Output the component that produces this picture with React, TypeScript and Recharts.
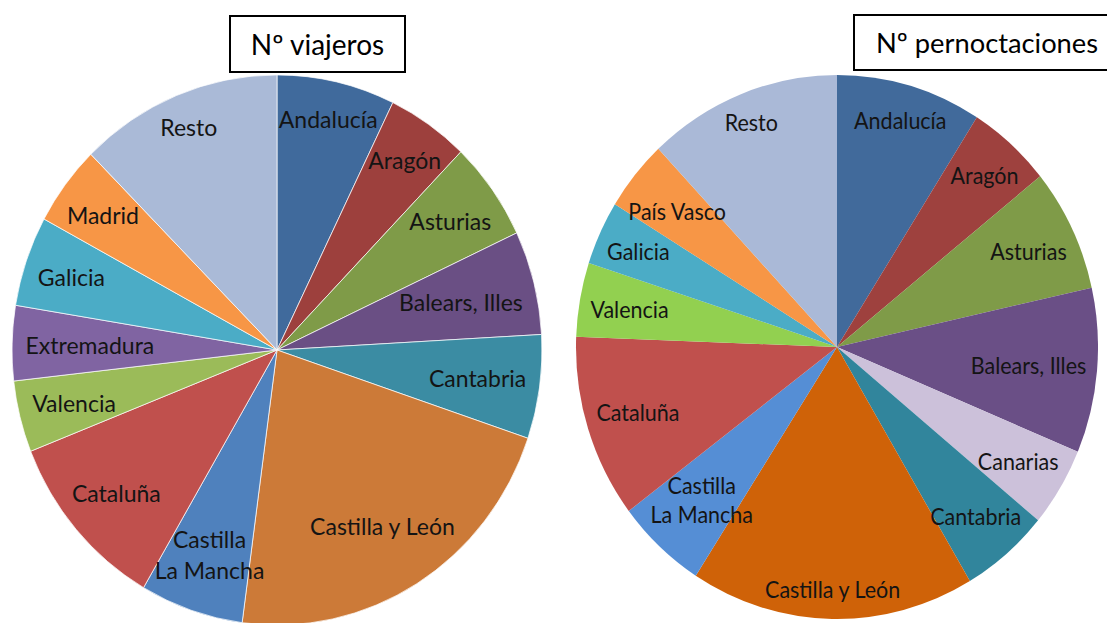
import { Cell, Pie, PieChart } from "recharts";

// Nº viajeros, share per region (%), clockwise from 12 o'clock
const viajerosRegions = [
  "Andalucía",
  "Aragón",
  "Asturias",
  "Balears, Illes",
  "Cantabria",
  "Castilla y León",
  "Castilla La Mancha",
  "Cataluña",
  "Valencia",
  "Extremadura",
  "Galicia",
  "Madrid",
  "Resto",
];
const viajerosShare = [7.2, 5.0, 5.8, 6.1, 6.1, 21.9, 6.3, 10.6, 4.2, 4.4, 5.3, 4.7, 12.4];
const viajerosColors = [
  "#406a9c",
  "#9d403d",
  "#7f9b48",
  "#6a4f84",
  "#3b8ca3",
  "#cc7a38",
  "#4f81bd",
  "#c0504d",
  "#9bbb59",
  "#8064a2",
  "#4bacc6",
  "#f79646",
  "#aabad7",
];

// Nº pernoctaciones
const pernoctacionesRegions = [
  "Andalucía",
  "Aragón",
  "Asturias",
  "Balears, Illes",
  "Canarias",
  "Cantabria",
  "Castilla y León",
  "Castilla La Mancha",
  "Cataluña",
  "Valencia",
  "Galicia",
  "País Vasco",
  "Resto",
];
const pernoctacionesShare = [9.0, 5.2, 7.3, 9.8, 4.7, 5.5, 17.6, 5.6, 10.9, 4.4, 3.8, 4.2, 12.0];
const pernoctacionesColors = [
  "#416a9b",
  "#9e413e",
  "#7f9b48",
  "#6a4f86",
  "#ccc1da",
  "#31859c",
  "#cf6208",
  "#558ed5",
  "#c0504d",
  "#92d050",
  "#4bacc6",
  "#f79646",
  "#aab9d7",
];

const FONT = "Lato";
const RADIAN = Math.PI / 180;

let measureCtx: CanvasRenderingContext2D | null = null;
const measureText = (text: string, fontSize: number) => {
  if (!measureCtx) measureCtx = document.createElement("canvas").getContext("2d");
  if (!measureCtx) return text.length * fontSize * 0.5;
  measureCtx.font = `${fontSize}px ${FONT}`;
  return measureCtx.measureText(text).width;
};

const splitName = (name: string) =>
  name === "Castilla La Mancha" ? ["Castilla", "La Mancha"] : [name];

// places the label on the slice's mid-angle ray, pushed out until its far corner nears the rim
const makeLabel = (names: string[], fontSize: number, reach: number) => (props: any) => {
  const { cx, cy, midAngle, outerRadius, index } = props;
  const lines = splitName(names[index]);
  const lineHeight = fontSize * 1.3;
  const w = Math.max(...lines.map((l) => measureText(l, fontSize)));
  const h = fontSize * 0.7 + (lines.length - 1) * lineHeight;
  const cos = Math.cos(-midAngle * RADIAN);
  const sin = Math.sin(-midAngle * RADIAN);
  const target = outerRadius * reach;

  let lo = 0;
  let hi = 1;
  for (let i = 0; i < 30; i++) {
    const f = (lo + hi) / 2;
    const dx = Math.abs(f * outerRadius * cos) + w / 2;
    const dy = Math.abs(f * outerRadius * sin) + h / 2;
    if (Math.hypot(dx, dy) > target) hi = f;
    else lo = f;
  }
  const x = cx + lo * outerRadius * cos;
  const y = cy + lo * outerRadius * sin - ((lines.length - 1) * lineHeight) / 2;

  return (
    <text
      x={x}
      y={y}
      textAnchor="middle"
      dominantBaseline="central"
      fill="#141414"
      fontFamily={FONT}
      fontSize={fontSize}
    >
      {lines.map((line, i) => (
        <tspan key={line} x={x} dy={i === 0 ? 0 : lineHeight}>
          {line}
        </tspan>
      ))}
    </text>
  );
};

type RegionPieProps = {
  names: string[];
  values: number[];
  colors: string[];
  width: number;
  cx: number;
  cy: number;
  radius: number;
  stretch: number;
  fontSize: number;
  reach: number;
  stroke: string;
};

const RegionPie = ({ names, values, colors, width, cx, cy, radius, stretch, fontSize, reach, stroke }: RegionPieProps) => {
  const data = names.map((name, i) => ({ name, value: values[i] }));
  return (
    <div style={{ transform: `scaleY(${stretch})`, transformOrigin: `${cx}px ${cy}px` }}>
      <PieChart width={width} height={623} margin={{ top: 0, right: 0, bottom: 0, left: 0 }}>
        <Pie
          data={data}
          dataKey="value"
          nameKey="name"
          cx={cx}
          cy={cy}
          outerRadius={radius}
          startAngle={90}
          endAngle={-270}
          stroke={stroke}
          strokeWidth={stroke === "none" ? 0 : 0.7}
          label={makeLabel(names, fontSize, reach)}
          labelLine={false}
          isAnimationActive={false}
        >
          {data.map((d, i) => (
            <Cell key={d.name} fill={colors[i]} />
          ))}
        </Pie>
      </PieChart>
    </div>
  );
};

const titleStyle = {
  position: "absolute" as const,
  boxSizing: "border-box" as const,
  border: "2px solid #000",
  background: "#fff",
  fontFamily: FONT,
  color: "#000",
  whiteSpace: "nowrap" as const,
};

export default function App() {
  return (
    <div
      style={{
        position: "absolute",
        left: 0,
        top: 0,
        width: 1107,
        height: 623,
        overflow: "hidden",
        background: "#fff",
      }}
    >
      <div style={{ position: "absolute", left: 0, top: 0 }}>
        <RegionPie
          names={viajerosRegions}
          values={viajerosShare}
          colors={viajerosColors}
          width={560}
          cx={277}
          cy={350}
          radius={265}
          stretch={1.038}
          fontSize={23}
          reach={0.95}
          stroke="#ffffff"
        />
      </div>
      <div style={{ position: "absolute", left: 560, top: 0 }}>
        <RegionPie
          names={pernoctacionesRegions}
          values={pernoctacionesShare}
          colors={pernoctacionesColors}
          width={547}
          cx={277}
          cy={347}
          radius={261}
          stretch={1.042}
          fontSize={21.5}
          reach={0.96}
          stroke="none"
        />
      </div>
      <div
        style={{
          ...titleStyle,
          left: 229,
          top: 15,
          width: 177,
          height: 58,
          lineHeight: "54px",
          fontSize: 28,
          textAlign: "center",
        }}
      >
        Nº viajeros
      </div>
      <div
        style={{
          ...titleStyle,
          left: 853,
          top: 14,
          width: 280,
          height: 57,
          lineHeight: "53px",
          fontSize: 27.3,
          paddingLeft: 21,
        }}
      >
        Nº pernoctaciones
      </div>
    </div>
  );
}
